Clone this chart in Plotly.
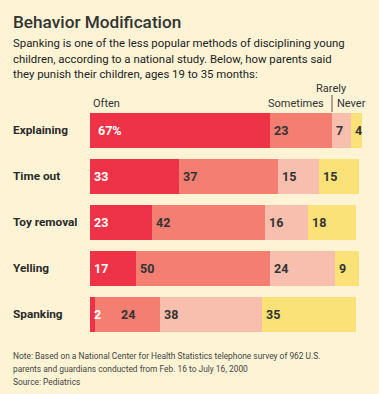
import plotly.graph_objects as go

categories = ["Explaining", "Time out", "Toy removal", "Yelling", "Spanking"]
often = [67, 33, 23, 17, 2]
sometimes = [23, 37, 42, 50, 24]
rarely = [7, 15, 16, 24, 38]
never = [4, 15, 18, 9, 35]
series_names = ["Often", "Sometimes", "Rarely", "Never"]
series_values = [often, sometimes, rarely, never]
colors = ["#EE3348", "#F47E71", "#F9BFAE", "#FBE278"]
label_colors = ["#FFFFFF", "#333333", "#333333", "#333333"]

W, H = 379, 394
BG = "#FEF4D5"
X0 = 90          # pixel where 0% sits
PXU = 2.69       # pixels per percentage point
PITCH = 46
FIRST_C = 130    # pixel centre of first bar
FONT = "Roboto"

yvals = list(range(len(categories)))

fig = go.Figure()
for name, vals, col in zip(series_names, series_values, colors):
    fig.add_trace(go.Bar(
        y=yvals, x=vals, orientation="h", name=name,
        marker=dict(color=col, line=dict(width=0)),
        width=35 / PITCH, hoverinfo="skip", showlegend=False,
    ))

def px(x):
    return x / W

def py(y):
    return 1 - y / H

ann = []
for i, cat in enumerate(categories):
    start = 0
    for s, vals in enumerate(series_values):
        v = vals[i]
        txt = str(v) + ("%" if (i == 0 and s == 0) else "")
        lf = dict(family=FONT, size=12.5, color=label_colors[s], weight="bold")
        if i == 4 and s == 1:
            ann.append(dict(x=start + v / 2, y=i, xref="x", yref="y", text=txt,
                            showarrow=False, xanchor="center", font=lf))
        else:
            ann.append(dict(x=start, y=i, xref="x", yref="y", text=txt,
                            showarrow=False, xanchor="left",
                            xshift=(6 if i == 0 and s == 0 else 2), font=lf))
        start += v
    ann.append(dict(x=px(11), y=i, xref="paper", yref="y", text=cat, showarrow=False,
                    xanchor="left",
                    font=dict(family=FONT, size=11.8, color="#2a2a2a", weight="bold")))

ann.append(dict(x=px(11), y=py(22), xref="paper", yref="paper", text="Behavior Modification",
                showarrow=False, xanchor="left", yanchor="middle",
                font=dict(family=FONT, size=17.2, color="#333333", weight=500)))
sub = ["Spanking is one of the less popular methods of disciplining young",
       "children, according to a national study. Below, how parents said",
       "they punish their children, ages 19 to 35 months:"]
for k, line in enumerate(sub):
    ann.append(dict(x=px(11), y=py(43 + 15.5 * k), xref="paper", yref="paper", text=line,
                    showarrow=False, xanchor="left", yanchor="middle",
                    font=dict(family=FONT, size=11.4, color="#222222")))

hdr = dict(family=FONT, size=11, color="#333333")
ann.append(dict(x=px(91), y=py(103), xref="paper", yref="paper", text="Often",
                showarrow=False, xanchor="left", yanchor="middle", font=hdr))
ann.append(dict(x=px(326), y=py(103), xref="paper", yref="paper", text="Sometimes",
                showarrow=False, xanchor="right", yanchor="middle", font=hdr))
ann.append(dict(x=px(349), y=py(88), xref="paper", yref="paper", text="Rarely",
                showarrow=False, xanchor="right", yanchor="middle", font=hdr))
ann.append(dict(x=px(335), y=py(103), xref="paper", yref="paper", text="Never",
                showarrow=False, xanchor="left", yanchor="middle", font=hdr))

notes = ["Note: Based on a National Center for Health Statistics telephone survey of 962 U.S.",
         "parents and guardians conducted from Feb. 16 to July 16, 2000",
         "Source: Pediatrics"]
for k, line in enumerate(notes):
    ann.append(dict(x=px(11), y=py(356 + 13 * k), xref="paper", yref="paper", text=line,
                    showarrow=False, xanchor="left", yanchor="middle",
                    font=dict(family=FONT, size=8.4, color="#444444")))

shapes = [dict(type="line", xref="paper", yref="paper", x0=px(332), x1=px(332),
               y0=py(95), y1=py(112), line=dict(color="#555555", width=1))]

fig.update_layout(
    width=W, height=H, barmode="stack",
    margin=dict(l=0, r=0, t=0, b=0),
    paper_bgcolor=BG, plot_bgcolor=BG,
    xaxis=dict(range=[-X0 / PXU, (W - X0) / PXU], visible=False, fixedrange=True),
    yaxis=dict(range=[(H - FIRST_C) / PITCH, -FIRST_C / PITCH], visible=False, fixedrange=True),
    annotations=ann, shapes=shapes, bargap=0,
)

fig.write_html("out.html", config={"displayModeBar": False}, post_script=(
    "document.body.style.margin='0';document.body.style.padding='0';"
    "document.body.style.overflow='hidden';"
    "document.body.style.background='" + BG + "';"))
